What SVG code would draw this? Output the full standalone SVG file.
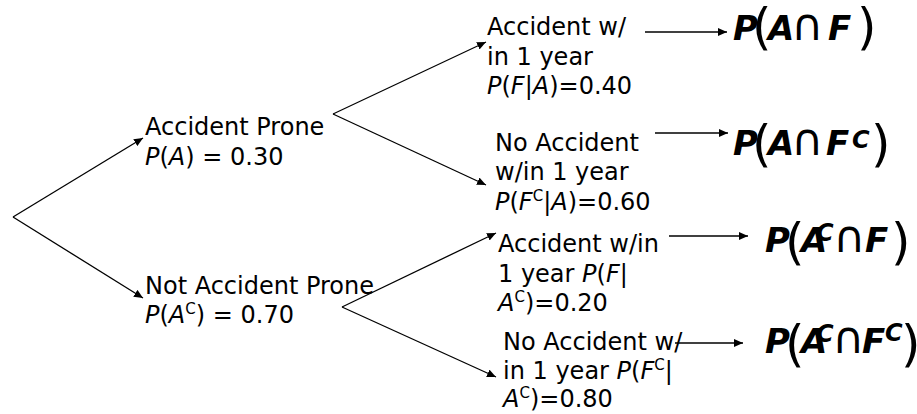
<svg xmlns="http://www.w3.org/2000/svg" width="917" height="414" viewBox="0 0 917 414">
<defs>
<marker id="ah" markerUnits="userSpaceOnUse" markerWidth="10" markerHeight="8" refX="9" refY="4" orient="auto">
<path d="M0,0 L9,4 L0,8 Z" fill="#000"/>
</marker>
<style>
.t{font-family:"DejaVu Sans","Verdana",sans-serif;font-size:24px;fill:#000}
.i{font-style:italic}
.sup{font-size:15px}
.m{font-family:"DejaVu Sans",sans-serif;font-size:34px;font-weight:bold;font-style:italic;fill:#000}
.ms{font-size:24px}
.cap{font-family:"DejaVu Sans",sans-serif;font-size:44px;font-weight:normal;font-style:normal}
.par{font-family:"DejaVu Sans",sans-serif;font-size:50px;font-weight:normal;font-style:normal}
.c{stroke:#000;stroke-width:1.3;fill:none;marker-end:url(#ah)}
</style>
</defs>
<rect width="917" height="414" fill="#fff"/>
<g id="connectors">
<line class="c" x1="13" y1="217" x2="143" y2="138"/>
<line class="c" x1="13" y1="217" x2="143" y2="298"/>
<line class="c" x1="333" y1="114" x2="486" y2="42"/>
<line class="c" x1="333" y1="114" x2="486" y2="185"/>
<line class="c" x1="342" y1="307" x2="496" y2="233"/>
<line class="c" x1="342" y1="307" x2="496" y2="377"/>
<line class="c" x1="645" y1="32" x2="727" y2="32"/>
<line class="c" x1="655" y1="133" x2="728" y2="133"/>
<line class="c" x1="669" y1="236" x2="748" y2="236"/>
<line class="c" x1="675" y1="343" x2="743" y2="343"/>
</g>
<g id="accident-prone">
<text class="t" x="145" y="135">Accident Prone</text>
<text class="t" x="145" y="165"><tspan class="i">P</tspan>(<tspan class="i">A</tspan>) = 0.30</text>
</g>
<g id="not-accident-prone">
<text class="t" x="145" y="294">Not Accident Prone</text>
<text class="t" x="145" y="323"><tspan class="i">P</tspan>(<tspan class="i">A</tspan><tspan class="sup" dy="-9">C</tspan><tspan dy="9">) = 0.70</tspan></text>
</g>
<g id="a-f">
<text class="t" x="487" y="35">Accident w/</text>
<text class="t" x="487" y="65">in 1 year</text>
<text class="t" x="487" y="94"><tspan class="i">P</tspan>(<tspan class="i">F</tspan>|<tspan class="i">A</tspan>)=0.40</text>
</g>
<g id="a-fc">
<text class="t" x="495" y="151">No Accident</text>
<text class="t" x="495" y="180">w/in 1 year</text>
<text class="t" x="495" y="210"><tspan class="i">P</tspan>(<tspan class="i">F</tspan><tspan class="sup" dy="-9">C</tspan><tspan dy="9">|</tspan><tspan class="i">A</tspan>)=0.60</text>
</g>
<g id="ac-f">
<text class="t" x="498" y="252">Accident w/in</text>
<text class="t" x="498" y="282">1 year <tspan class="i">P</tspan>(<tspan class="i">F</tspan>|</text>
<text class="t" x="498" y="311"><tspan class="i">A</tspan><tspan class="sup" dy="-9">C</tspan><tspan dy="9">)=0.20</tspan></text>
</g>
<g id="ac-fc">
<text class="t" x="503" y="350">No Accident w/</text>
<text class="t" x="503" y="379">in 1 year <tspan class="i">P</tspan>(<tspan class="i">F</tspan><tspan class="sup" dy="-9">C</tspan><tspan dy="9">|</tspan></text>
<text class="t" x="503" y="407"><tspan class="i">A</tspan><tspan class="sup" dy="-9">C</tspan><tspan dy="9">)=0.80</tspan></text>
</g>
<g id="p-a-and-f">
<text class="m" y="40"><tspan x="733">P</tspan><tspan class="par" x="752" y="44">(</tspan><tspan x="768" y="40">A</tspan><tspan class="cap" x="791">∩</tspan><tspan x="828">F</tspan><tspan class="par" x="857" y="44">)</tspan></text>
</g>
<g id="p-a-and-fc">
<text class="m" y="155"><tspan x="733">P</tspan><tspan class="par" x="752" y="161">(</tspan><tspan x="768" y="155">A</tspan><tspan class="cap" x="791">∩</tspan><tspan x="826">F</tspan><tspan class="ms" x="852" y="148">C</tspan><tspan class="par" x="871" y="161">)</tspan></text>
</g>
<g id="p-ac-and-f">
<text class="m" y="252"><tspan x="765">P</tspan><tspan class="par" x="785" y="259">(</tspan><tspan x="801" y="252">A</tspan><tspan class="ms" x="816" y="241">C</tspan><tspan class="cap" x="833" y="252">∩</tspan><tspan x="865">F</tspan><tspan class="par" x="891" y="259">)</tspan></text>
</g>
<g id="p-ac-and-fc">
<text class="m" y="353"><tspan x="765">P</tspan><tspan class="par" x="785" y="361">(</tspan><tspan x="801" y="353">A</tspan><tspan class="ms" x="816" y="342">C</tspan><tspan class="cap" x="832" y="353">∩</tspan><tspan x="862">F</tspan><tspan class="ms" x="885" y="341">C</tspan><tspan class="par" x="901" y="361">)</tspan></text>
</g>
</svg>
